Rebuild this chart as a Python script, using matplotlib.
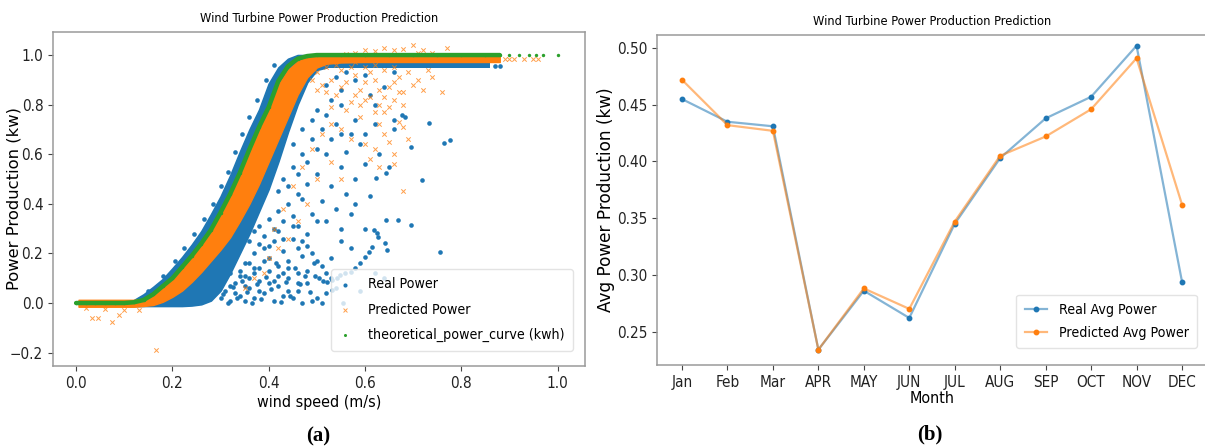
import os
import matplotlib
matplotlib.use("Agg")
import matplotlib.pyplot as plt
from matplotlib import font_manager
from matplotlib.font_manager import FontProperties

# ---------------------------------------------------------------- fonts
# narrow sans face for the labels, falling back to wider faces
_files = {os.path.basename(f.fname): f.fname
          for f in font_manager.fontManager.ttflist}
NARROW = None
for cand in ["NotoSans-ExtraCondensed.ttf", "NotoSans-Condensed.ttf",
             "LiberationSansNarrow-Regular.ttf", "DejaVuSansCondensed.ttf"]:
    if cand in _files:
        NARROW = _files[cand]
        break


def fp(size):
    if NARROW:
        return FontProperties(fname=NARROW, size=size)
    return FontProperties(family="DejaVu Sans", size=size)


BLUE = "#1f77b4"
ORANGE = "#ff7f0e"
GREEN = "#2ca02c"

# ---------------------------------------------------------------- data (a)
# theoretical power curve (normalised wind speed vs normalised power)
theo_ws = [0.00, 0.02, 0.04, 0.06, 0.08, 0.10, 0.12, 0.14, 0.16, 0.18, 0.20,
           0.22, 0.24, 0.26, 0.28, 0.30, 0.32, 0.34, 0.36, 0.38, 0.40, 0.42,
           0.44, 0.46, 0.48, 0.50, 0.55, 0.60, 0.65, 0.70, 0.75, 0.80, 0.85,
           0.88, 0.90, 0.92, 0.94, 0.955, 0.97, 1.00]
theo_pw = [0.0, 0.0, 0.0, 0.0, 0.0, 0.0, 0.003, 0.012, 0.035, 0.068, 0.10,
           0.145, 0.19, 0.24, 0.295, 0.365, 0.44, 0.525, 0.62, 0.71, 0.79,
           0.895, 0.955, 0.985, 0.996, 1.0, 1.0, 1.0, 1.0, 1.0, 1.0, 1.0, 1.0,
           1.0, 1.0, 1.0, 1.0, 1.0, 1.0, 1.0]
theo_solid_end = 34  # continuous part of the curve ends at ws = 0.88

# dense core of the measured power points
real_core_ws = [0.11, 0.12, 0.14, 0.16, 0.18, 0.20, 0.22, 0.24, 0.26, 0.28,
                0.30, 0.32, 0.34, 0.36, 0.38, 0.40, 0.42, 0.44, 0.46, 0.48,
                0.50, 0.52]
real_core_top = [0.0, 0.012, 0.035, 0.065, 0.097, 0.14, 0.185, 0.235, 0.29,
                 0.358, 0.43, 0.515, 0.61, 0.70, 0.78, 0.885, 0.95, 0.985,
                 1.0, 1.0, 0.99, 0.975]
real_core_bot = [-0.012, -0.012, -0.012, -0.012, -0.012, -0.012, -0.012,
                 -0.01, -0.005, 0.01, 0.05, 0.12, 0.20, 0.28, 0.37, 0.46,
                 0.57, 0.69, 0.80, 0.89, 0.94, 0.95]
# measured plateau just under rated power
real_flat_ws = [0.47, 0.86]
real_flat_lo = [0.947, 0.947]
real_flat_hi = [0.966, 0.966]

# scattered measured points
real_ws = [0.30, 0.31, 0.32, 0.33, 0.34, 0.35, 0.36, 0.37, 0.38, 0.39, 0.40,
           0.41, 0.42, 0.43, 0.44, 0.45, 0.46, 0.47, 0.48, 0.49,
           0.31, 0.33, 0.34, 0.36, 0.37, 0.38, 0.39, 0.40, 0.41, 0.42, 0.43,
           0.44, 0.45, 0.46, 0.47, 0.48,
           0.36, 0.37, 0.38, 0.39, 0.40, 0.41, 0.42, 0.43, 0.44, 0.45, 0.46,
           0.47, 0.48, 0.49, 0.50,
           0.29, 0.30, 0.32, 0.35, 0.36, 0.37, 0.39, 0.41, 0.43, 0.44, 0.46,
           0.50, 0.51, 0.52,
           0.305, 0.315, 0.325, 0.335, 0.345, 0.355, 0.365, 0.375, 0.385,
           0.395, 0.405, 0.415, 0.425, 0.435, 0.445, 0.455, 0.465, 0.475,
           0.485, 0.495,
           0.32, 0.34, 0.35, 0.37, 0.38, 0.40, 0.42, 0.43, 0.45, 0.47, 0.49,
           0.51, 0.53,
           0.33, 0.35, 0.38, 0.40, 0.42, 0.44, 0.46, 0.48, 0.50, 0.52, 0.54,
           0.42, 0.43, 0.44, 0.45, 0.46, 0.47, 0.48, 0.49, 0.50, 0.51, 0.46,
           0.48, 0.50, 0.52, 0.53, 0.54, 0.55, 0.52, 0.50, 0.53, 0.51, 0.53,
           0.55, 0.56, 0.57, 0.58, 0.55, 0.49, 0.47, 0.45, 0.54, 0.56, 0.58,
           0.60, 0.59, 0.52, 0.55, 0.57,
           0.684, 0.732, 0.764, 0.776, 0.696, 0.719, 0.643, 0.623, 0.643,
           0.668, 0.696, 0.756, 0.660, 0.677, 0.618, 0.625, 0.628, 0.642,
           0.646, 0.615, 0.608, 0.601, 0.590, 0.580, 0.570, 0.559, 0.549,
           0.542, 0.532, 0.522, 0.513, 0.504, 0.497, 0.555, 0.531, 0.60,
           0.62, 0.58, 0.61, 0.63, 0.65, 0.66, 0.60, 0.57, 0.55, 0.53, 0.62,
           0.64, 0.59,
           0.52, 0.55, 0.58, 0.61, 0.64, 0.56, 0.60, 0.66, 0.62, 0.54,
           0.87, 0.88,
           0.15, 0.18, 0.205, 0.225, 0.245, 0.265, 0.285, 0.30, 0.315, 0.33,
           0.345, 0.36, 0.375, 0.395, 0.41]
real_pw = [0.02, 0.05, 0.01, 0.08, 0.03, 0.11, 0.06, 0.02, 0.09, 0.04, 0.13,
           0.01, 0.07, 0.03, 0.10, 0.02, 0.05, 0.0, 0.08, 0.01,
           0.15, 0.18, 0.13, 0.16, 0.20, 0.14, 0.22, 0.18, 0.25, 0.15, 0.21,
           0.17, 0.26, 0.12, 0.19, 0.23,
           0.25, 0.29, 0.31, 0.27, 0.34, 0.30, 0.37, 0.33, 0.40, 0.35, 0.31,
           0.42, 0.28, 0.36, 0.33,
           0.06, 0.10, 0.12, 0.07, 0.10, 0.12, 0.17, 0.09, 0.12, 0.05, 0.22,
           0.02, 0.0, 0.04,
           0.035, 0.0, 0.065, 0.02, 0.09, 0.045, 0.0, 0.075, 0.015, 0.105,
           0.055, 0.16, 0.005, 0.085, 0.03, 0.14, 0.075, 0.11, 0.045, 0.16,
           0.07, 0.11, 0.16, 0.14, 0.24, 0.23, 0.29, 0.26, 0.31, 0.25, 0.20,
           0.15, 0.10,
           0.04, 0.01, 0.05, 0.08, 0.11, 0.14, 0.08, 0.13, 0.17, 0.12, 0.06,
           0.45, 0.50, 0.47, 0.55, 0.52, 0.60, 0.57, 0.66, 0.62, 0.70, 0.44,
           0.48, 0.52, 0.60, 0.66, 0.72, 0.68, 0.76, 0.78, 0.82, 0.41, 0.47,
           0.55, 0.61, 0.68, 0.74, 0.80, 0.74, 0.70, 0.64, 0.38, 0.44, 0.50,
           0.56, 0.64, 0.33, 0.30, 0.36,
           0.751, 0.725, 0.644, 0.657, 0.630, 0.496, 0.523, 0.503, 0.335,
           0.335, 0.315, 0.207, 0.738, 0.758, 0.294, 0.281, 0.267, 0.241,
           0.214, 0.227, 0.207, 0.187, 0.160, 0.140, 0.126, 0.120, 0.113,
           0.100, 0.093, 0.086, 0.090, 0.100, 0.110, 0.0, 0.052, 0.68,
           0.72, 0.40, 0.43, 0.60, 0.55, 0.70, 0.30, 0.22, 0.25, 0.18, 0.12,
           0.10, 0.05,
           0.88, 0.86, 0.90, 0.84, 0.87, 0.93, 0.92, 0.93, 0.80, 0.91,
           0.955, 0.955,
           0.05, 0.11, 0.17, 0.22, 0.28, 0.34, 0.40, 0.47, 0.53, 0.61, 0.68,
           0.75, 0.82, 0.90, 0.96]

# dense core of the predicted power points
pred_core_ws = [0.005, 0.05, 0.10, 0.12, 0.14, 0.16, 0.18, 0.20, 0.22, 0.24,
                0.26, 0.28, 0.30, 0.32, 0.34, 0.36, 0.38, 0.40, 0.42, 0.44,
                0.46, 0.48, 0.50, 0.52, 0.55, 0.60, 0.70, 0.80, 0.88]
pred_core_top = [0.013, 0.013, 0.013, 0.013, 0.016, 0.035, 0.065, 0.10,
                 0.14, 0.185, 0.235, 0.29, 0.36, 0.43, 0.515, 0.61, 0.70,
                 0.78, 0.88, 0.94, 0.975, 0.99, 0.995, 0.995, 0.995, 0.995,
                 0.995, 0.995, 0.995]
pred_core_bot = [-0.015, -0.015, -0.015, -0.015, -0.012, -0.008, 0.005,
                 0.025, 0.05, 0.085, 0.125, 0.17, 0.215, 0.265, 0.33, 0.40,
                 0.48, 0.57, 0.66, 0.75, 0.84, 0.91, 0.95, 0.965, 0.97,
                 0.972, 0.972, 0.972, 0.972]

# scattered predicted points
pred_ws = [0.50, 0.51, 0.52, 0.53, 0.54, 0.55, 0.56, 0.57, 0.58, 0.59, 0.60,
           0.61, 0.62, 0.63, 0.64, 0.65, 0.66, 0.67, 0.68, 0.69, 0.70, 0.71,
           0.72, 0.73, 0.74, 0.76,
           0.52, 0.53, 0.55, 0.56, 0.57, 0.58, 0.59, 0.60, 0.61, 0.62, 0.63,
           0.64, 0.65, 0.66, 0.67, 0.68, 0.50, 0.49, 0.54, 0.60, 0.62, 0.58,
           0.64, 0.66,
           0.53, 0.55, 0.57, 0.60, 0.62, 0.64, 0.66, 0.68, 0.69, 0.63, 0.59,
           0.61, 0.63, 0.65, 0.67,
           0.53, 0.66, 0.68, 0.55, 0.48, 0.46, 0.44, 0.42, 0.40, 0.45, 0.43,
           0.41, 0.39, 0.37, 0.35, 0.47, 0.49, 0.51, 0.50,
           0.58, 0.60, 0.62, 0.64, 0.66, 0.68, 0.70, 0.72, 0.74, 0.77, 0.56,
           0.71,
           0.034, 0.046, 0.074, 0.090, 0.166, 0.06, 0.10, 0.13, 0.02,
           0.89, 0.90, 0.91, 0.93, 0.95, 0.96]
pred_pw = [0.93, 0.88, 0.95, 0.90, 0.84, 0.94, 0.89, 0.81, 0.92, 0.86, 0.95,
           0.83, 0.90, 0.80, 0.94, 0.87, 0.82, 0.91, 0.85, 0.93, 0.88, 0.90,
           0.86, 0.94, 0.91, 0.85,
           0.85, 0.79, 0.87, 0.78, 0.95, 0.84, 0.80, 0.89, 0.93, 0.77, 0.86,
           0.83, 0.79, 0.95, 0.85, 0.80, 0.86, 0.90, 0.96, 0.82, 0.96, 0.97,
           0.77, 0.89,
           0.72, 0.70, 0.66, 0.64, 0.62, 0.68, 0.60, 0.71, 0.66, 0.72, 0.75,
           0.58, 0.55, 0.65, 0.73,
           0.57, 0.56, 0.45, 0.50, 0.40, 0.33, 0.26, 0.22, 0.18, 0.47, 0.38,
           0.30, 0.12, 0.10, 0.06, 0.55, 0.62, 0.68, 0.50,
           1.01, 1.02, 1.015, 1.03, 1.02, 1.025, 1.04, 1.02, 1.01, 1.03, 1.005,
           1.01,
           -0.062, -0.062, -0.075, -0.048, -0.19, -0.025, -0.03, -0.028, -0.02,
           0.985, 0.985, 0.985, 0.985, 0.985, 0.985]

# ---------------------------------------------------------------- data (b)
months = ["Jan", "Feb", "Mar", "APR", "MAY", "JUN", "JUL", "AUG", "SEP",
          "OCT", "NOV", "DEC"]
real_avg = [0.455, 0.435, 0.431, 0.234, 0.286, 0.262, 0.345, 0.403, 0.438,
            0.457, 0.502, 0.294]
pred_avg = [0.472, 0.432, 0.427, 0.234, 0.288, 0.270, 0.347, 0.405, 0.422,
            0.446, 0.491, 0.362]

# ---------------------------------------------------------------- figure
W, H = 1205, 446
fig = plt.figure(figsize=(W / 100, H / 100), dpi=100)

SPINE = "#9a9a9a"
TICK_SIZE = 11


def style_axes(ax):
    for s in ax.spines.values():
        s.set_color(SPINE)
        s.set_linewidth(1.1)
    ax.tick_params(colors="#444444", labelcolor="#222222")
    for lab in ax.get_xticklabels() + ax.get_yticklabels():
        lab.set_fontproperties(fp(TICK_SIZE))


# ---------------- panel (a)
ax1 = fig.add_axes([53 / W, 80 / H, 532 / W, 334 / H])

ax1.fill_between(real_core_ws, real_core_bot, real_core_top, color=BLUE,
                 lw=1.2, edgecolor=BLUE)
ax1.fill_between(real_flat_ws, real_flat_lo, real_flat_hi, color=BLUE, lw=0)
ax1.scatter(real_ws, real_pw, s=11, color=BLUE, marker="o", lw=0,
            label="Real Power")

ax1.fill_between(pred_core_ws, pred_core_bot, pred_core_top, color=ORANGE,
                 lw=1.0, edgecolor=ORANGE)
ax1.scatter(pred_ws, pred_pw, s=10, color=ORANGE, marker="x", lw=0.7,
            alpha=0.75, label="Predicted Power")

ax1.plot(theo_ws[:theo_solid_end], theo_pw[:theo_solid_end], color=GREEN,
         lw=3.2, solid_capstyle="round")
ax1.scatter(theo_ws, theo_pw, s=6, color=GREEN, lw=0,
            label="theoretical_power_curve (kwh)")

ax1.set_xlim(-0.048, 1.057)
ax1.set_ylim(-0.254, 1.093)
ax1.set_xticks([0.0, 0.2, 0.4, 0.6, 0.8, 1.0])
ax1.set_yticks([-0.2, 0.0, 0.2, 0.4, 0.6, 0.8, 1.0])
style_axes(ax1)
ax1.set_title("Wind Turbine Power Production Prediction", pad=7,
              fontproperties=fp(9.2))
ax1.set_xlabel("wind speed (m/s)", labelpad=3, fontproperties=fp(11.5))
ax1.set_ylabel("Power Production (kw)", fontsize=11.8, family="DejaVu Sans")
ax1.yaxis.set_label_coords(-0.0585, 0.5)
leg1 = ax1.legend(loc="lower right", prop=fp(10.2),
                  markerscale=0.9, handlelength=0.8, handletextpad=1.2,
                  labelspacing=0.8, borderpad=0.6, frameon=True,
                  bbox_to_anchor=(0.99, 0.025))
leg1.get_frame().set_edgecolor("#dddddd")

# ---------------- panel (b)
ax2 = fig.add_axes([657 / W, 81 / H, 550 / W, 330 / H])
x_idx = list(range(len(months)))
ax2.plot(x_idx, real_avg, color=(0.122, 0.467, 0.706, 0.55), lw=1.6,
         marker="o", ms=3.2, mfc=BLUE, mec=BLUE, label="Real Avg Power")
ax2.plot(x_idx, pred_avg, color=(1.0, 0.498, 0.055, 0.55), lw=1.6,
         marker="o", ms=3.2, mfc=ORANGE, mec=ORANGE,
         label="Predicted Avg Power")
ax2.set_xticks(x_idx)
ax2.set_xticklabels(months)
ax2.set_xlim(-0.55, 11.55)
ax2.set_ylim(0.2205, 0.5115)
ax2.set_yticks([0.25, 0.30, 0.35, 0.40, 0.45, 0.50])
style_axes(ax2)
ax2.set_title("Wind Turbine Power Production Prediction", pad=7,
              fontproperties=fp(9.2))
ax2.set_xlabel("Month", labelpad=1, fontproperties=fp(11.5))
ax2.set_ylabel("Avg Power Production (kw)", fontsize=12.2,
               family="DejaVu Sans")
ax2.yaxis.set_label_coords(-0.076, 0.5)
leg2 = ax2.legend(loc="lower right", prop=fp(10.2),
                  handlelength=1.6, handletextpad=0.8, labelspacing=0.6,
                  borderpad=0.6, bbox_to_anchor=(0.995, 0.03))
leg2.get_frame().set_edgecolor("#dddddd")

# panel letters
fig.text(318 / W, 1 - 436 / H, "(a)", ha="center", va="center",
         fontsize=15, fontweight="bold", family="Liberation Serif")
fig.text(930 / W, 1 - 434 / H, "(b)", ha="center", va="center",
         fontsize=15, fontweight="bold", family="Liberation Serif")

fig.savefig("out.png", dpi=100)
